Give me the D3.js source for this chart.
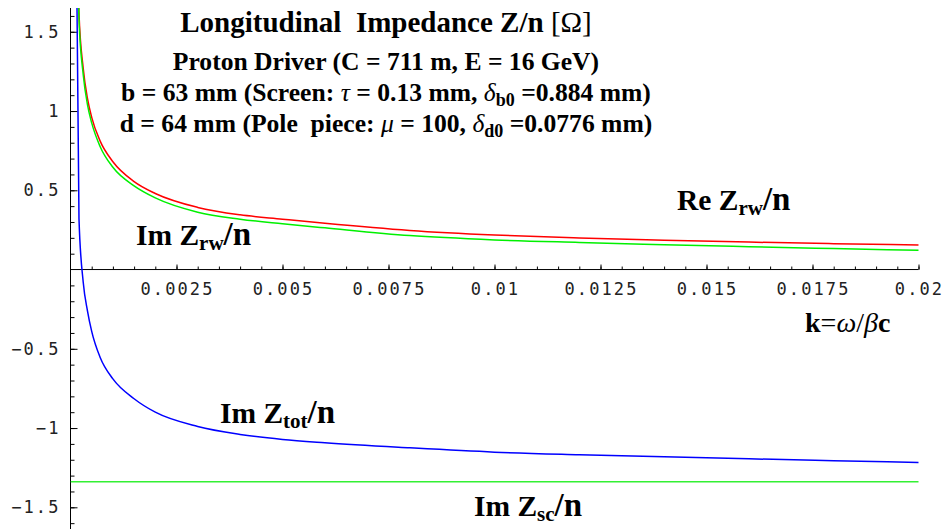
<!DOCTYPE html>
<html>
<head>
<meta charset="utf-8">
<script src="https://cdn.jsdelivr.net/npm/d3@7"></script>
<style>
  body { margin: 0; background: #fff; }
  text { white-space: pre; }
</style>
</head>
<body>
<div class="content"></div>
<script>
// k = omega / beta c
const kValues = [0.00015, 0.0002, 0.0003, 0.0004, 0.0005, 0.0007, 0.001, 0.0015, 0.002, 0.003,
  0.004, 0.005, 0.006, 0.008, 0.010, 0.012, 0.014, 0.016, 0.018, 0.020];
const reZrw = [2.10, 1.62, 1.27, 1.08, 0.96, 0.81, 0.68, 0.555, 0.48, 0.392,
  0.345, 0.318, 0.292, 0.247, 0.218, 0.199, 0.185, 0.173, 0.163, 0.155];
const imZrw = [2.05, 1.58, 1.23, 1.04, 0.925, 0.775, 0.645, 0.528, 0.452, 0.362,
  0.318, 0.289, 0.263, 0.214, 0.187, 0.171, 0.157, 0.144, 0.132, 0.121];
const imZtot = [1.75, 0.32, -0.08, -0.26, -0.39, -0.555, -0.69, -0.815, -0.90, -0.99,
  -1.04, -1.072, -1.093, -1.125, -1.152, -1.168, -1.181, -1.194, -1.206, -1.217];
const scK = [0, 0.02];
const imZsc = [-1.339, -1.339];

const xTicks = [0.0025, 0.005, 0.0075, 0.01, 0.0125, 0.015, 0.0175, 0.02];
const yTicks = [-1.5, -1, -0.5, 0.5, 1, 1.5];

const [svgWidth, svgHeight] = [946, 529];
const svg = d3.select('.content')
  .append('svg')
  .attr('width', svgWidth)
  .attr('height', svgHeight);

const x = d3.scaleLinear().domain([0, 0.02]).range([70.5, 918.5]);
const y = d3.scaleLinear().domain([-1.64, 1.65]).range([529.5, 8]);

svg.append('clipPath').attr('id', 'plot')
  .append('rect')
  .attr('x', x(0)).attr('y', y(1.65))
  .attr('width', x(0.02) - x(0) + 2).attr('height', y(-1.64) - y(1.65));

// minor / major ticks
const xMinor = d3.range(1, 41).map(i => i * 0.0005);
const yMinor = d3.range(-16, 17).filter(i => i !== 0).map(i => i / 10);

const axisStyle = g => {
  g.select('.domain').remove();
  g.selectAll('line').attr('stroke', '#000');
};

svg.append('g')
  .attr('transform', `translate(0,${y(0)})`)
  .call(d3.axisTop(x).tickValues(xMinor).tickSize(3).tickFormat(''))
  .call(axisStyle);
svg.append('g')
  .attr('transform', `translate(0,${y(0)})`)
  .call(d3.axisTop(x).tickValues(xTicks).tickSize(5).tickFormat(''))
  .call(axisStyle);
svg.append('g')
  .attr('transform', `translate(${x(0)},0)`)
  .call(d3.axisRight(y).tickValues(yMinor).tickSize(4).tickFormat(''))
  .call(axisStyle);
svg.append('g')
  .attr('transform', `translate(${x(0)},0)`)
  .call(d3.axisRight(y).tickValues(yTicks).tickSize(7).tickFormat(''))
  .call(axisStyle);

// axis lines
svg.append('line')
  .attr('x1', x(0)).attr('x2', x(0.02))
  .attr('y1', y(0)).attr('y2', y(0))
  .attr('stroke', '#000');
svg.append('line')
  .attr('x1', x(0)).attr('x2', x(0))
  .attr('y1', y(1.65)).attr('y2', y(-1.64))
  .attr('stroke', '#000');

const fmt = d3.format('~g');
const tickFont = '"DejaVu Sans Mono", monospace';

svg.selectAll('.xlab')
  .data(xTicks)
  .enter()
  .append('text')
  .classed('xlab', true)
  .attr('x', d => x(d) + 1)
  .attr('y', y(0) + 25)
  .attr('text-anchor', 'middle')
  .attr('font-family', tickFont)
  .attr('font-size', 17)
  .attr('letter-spacing', 2.1)
  .attr('fill', '#222')
  .text(fmt);

svg.selectAll('.ylab')
  .data(yTicks)
  .enter()
  .append('text')
  .classed('ylab', true)
  .attr('x', x(0) - 10)
  .attr('y', d => y(d) + 6)
  .attr('text-anchor', 'end')
  .attr('font-family', tickFont)
  .attr('font-size', 17)
  .attr('letter-spacing', 2.1)
  .attr('fill', '#222')
  .text(fmt);

// curves
const line = d3.line()
  .curve(d3.curveMonotoneX)
  .x(d => x(d[0]))
  .y(d => y(d[1]));

const curves = [
  {k: kValues, v: reZrw, color: '#ff0000'},
  {k: kValues, v: imZrw, color: '#00f000'},
  {k: kValues, v: imZtot, color: '#0000ff'},
  {k: scK, v: imZsc, color: '#33f033'}
];

svg.append('g')
  .attr('clip-path', 'url(#plot)')
  .selectAll('path.curve')
  .data(curves)
  .enter()
  .append('path')
  .classed('curve', true)
  .attr('fill', 'none')
  .attr('stroke', d => d.color)
  .attr('stroke-width', 1.5)
  .attr('d', d => line(d.k.map((k, i) => [k, d.v[i]])));

// rich text: parts are strings or [text, {size, weight, style, sub}]
const serif = '"Liberation Serif", "Times New Roman", serif';
const rich = (px, py, size, parts, anchor = 'start') => {
  const t = svg.append('text')
    .attr('x', px).attr('y', py)
    .attr('text-anchor', anchor)
    .attr('font-family', serif)
    .attr('font-size', size)
    .attr('font-weight', 'bold')
    .attr('fill', '#000');
  let shift = 0;
  parts.forEach(p => {
    const [s, o = {}] = typeof p === 'string' ? [p] : p;
    const want = o.sub ? o.sub : 0;
    const ts = t.append('tspan').text(s);
    if (want !== shift) { ts.attr('dy', want - shift); shift = want; }
    if (o.size) ts.attr('font-size', o.size);
    if (o.weight) ts.attr('font-weight', o.weight);
    if (o.style) ts.attr('font-style', o.style);
  });
  return t;
};

const greek = {weight: 'normal', style: 'italic'};
const cx = 386;
rich(cx, 32, 29, ['Longitudinal  Impedance Z/n ', ['[Ω]', {weight: 'normal'}]], 'middle');
rich(cx, 70, 25.6, ['Proton Driver (C = 711 m, E = 16 GeV)'], 'middle');
rich(cx, 101, 25.6, ['b = 63 mm (Screen: ', ['τ', greek], ' = 0.13 mm, ', ['δ', greek],
  ['b0', {size: 18, sub: 5}], ' =0.884 mm)'], 'middle');
rich(cx, 132, 25.6, ['d = 64 mm (Pole  piece: ', ['μ', greek], ' = 100, ', ['δ', greek],
  ['d0', {size: 18, sub: 5}], ' =0.0776 mm)'], 'middle');

const zLabel = (px, py, head, sub) => rich(px, py, 29.5, [head,
  [sub, {size: 21, sub: 5}], ['/n', {size: 33}]]);
zLabel(677, 210, 'Re Z', 'rw');
zLabel(136, 245, 'Im Z', 'rw');
zLabel(220, 423, 'Im Z', 'tot');
zLabel(474, 516, 'Im Z', 'sc');

rich(805, 332, 28, ['k', ['=', {weight: 'normal'}], ['ω', greek], ['/', {weight: 'normal'}],
  ['β', greek], 'c']);
</script>
</body>
</html>
